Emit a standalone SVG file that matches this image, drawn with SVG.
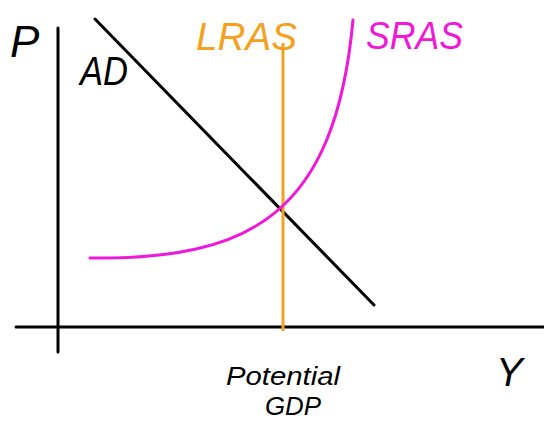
<svg xmlns="http://www.w3.org/2000/svg" width="544" height="424" viewBox="0 0 544 424">
<style>
.ax{stroke:#000;stroke-width:3;fill:none;stroke-linecap:round}
.t{font-family:"Liberation Sans",sans-serif;font-style:italic}
</style>
<rect width="544" height="424" fill="#fff"/>
<g id="connectors">
<line class="ax" x1="58" y1="28" x2="58" y2="352"/>
<line class="ax" x1="16" y1="327" x2="544" y2="327"/>
</g>
<g id="ad">
<line x1="95" y1="19" x2="374" y2="305" stroke="#000" stroke-width="3" stroke-linecap="round"/>
<text class="t" x="80" y="85" font-size="40" fill="#000" textLength="48" lengthAdjust="spacingAndGlyphs">AD</text>
</g>
<g id="lras">
<line x1="283" y1="43" x2="283" y2="331" stroke="#f5a020" stroke-width="3"/>
<text class="t" x="196" y="50" font-size="38" fill="#f5a020" textLength="101" lengthAdjust="spacingAndGlyphs">LRAS</text>
</g>
<g id="sras">
<path d="M90,258 C250,260 335,215 353,20" stroke="#f018d8" stroke-width="3" fill="none" stroke-linecap="round"/>
<text class="t" x="366" y="49" font-size="38" fill="#f018d8" textLength="97" lengthAdjust="spacingAndGlyphs">SRAS</text>
</g>
<g id="labels">
<text class="t" x="10" y="57" font-size="44" fill="#000">P</text>
<text class="t" x="496" y="386" font-size="40" fill="#000">Y</text>
<text class="t" x="226" y="385" font-size="26" fill="#000" textLength="114" lengthAdjust="spacingAndGlyphs">Potential</text>
<text class="t" x="265" y="415" font-size="26" fill="#000" textLength="56" lengthAdjust="spacingAndGlyphs">GDP</text>
</g>
</svg>
